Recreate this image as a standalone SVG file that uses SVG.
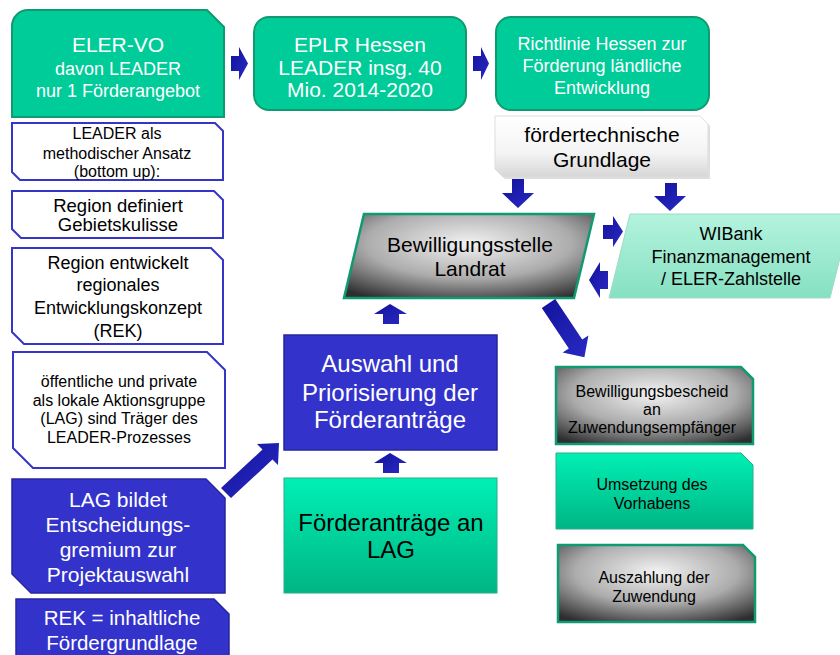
<svg xmlns="http://www.w3.org/2000/svg" width="840" height="655" viewBox="0 0 840 655">
<defs>
<radialGradient id="grey" cx="50%" cy="35%" r="75%">
<stop offset="0" stop-color="#f2f2f2"/>
<stop offset="0.55" stop-color="#acacac"/>
<stop offset="1" stop-color="#2e2e2e"/>
</radialGradient>
<linearGradient id="green" x1="0" y1="0" x2="0" y2="1">
<stop offset="0" stop-color="#00f0b4"/>
<stop offset="1" stop-color="#00b584"/>
</linearGradient>
<linearGradient id="mint" x1="0" y1="0" x2="0" y2="1">
<stop offset="0" stop-color="#b4f3de"/>
<stop offset="1" stop-color="#86e0c2"/>
</linearGradient>
<linearGradient id="paper" x1="0" y1="0" x2="0" y2="1">
<stop offset="0" stop-color="#ffffff"/>
<stop offset="0.6" stop-color="#f4f4f4"/>
<stop offset="1" stop-color="#d6d6d6"/>
</linearGradient>
<linearGradient id="arrow" x1="0" y1="0" x2="1" y2="1">
<stop offset="0" stop-color="#12129c"/>
<stop offset="1" stop-color="#2a2ac4"/>
</linearGradient>
</defs>
<style>
text{font-family:"Liberation Sans",Arial,sans-serif;text-anchor:middle}
.w{fill:#ffffff}
.k{fill:#000000}
.top{fill:#00cc99;stroke:#119a70;stroke-width:2}
.outline{fill:#ffffff;stroke:#3535c8;stroke-width:2}
.blue{fill:#3333cc;stroke:#2626a0;stroke-width:1.5}
.grey{fill:url(#grey);stroke:#0f9a72;stroke-width:2.5}
.grn{fill:url(#green);stroke:#22b088;stroke-width:1}
.arr{fill:url(#arrow)}
</style>

<g id="eler-vo">
<path class="top" d="M12,26 A16,16 0 0 1 28,10 L207,10 L224,27 L224,117 L12,117 Z"/>
<text class="w" x="118" y="52" font-size="21">ELER-VO</text>
<text class="w" x="118" y="75" font-size="18">davon LEADER</text>
<text class="w" x="118" y="97" font-size="18">nur 1 Förderangebot</text>
</g>

<g id="eplr">
<rect class="top" x="254" y="17" width="212" height="93" rx="15"/>
<text class="w" x="360" y="52" font-size="21">EPLR Hessen</text>
<text class="w" x="360" y="75" font-size="21">LEADER insg. 40</text>
<text class="w" x="360" y="97" font-size="21">Mio. 2014-2020</text>
</g>

<g id="richtlinie">
<rect class="top" x="496" y="17" width="213" height="93" rx="15"/>
<text class="w" x="602" y="50" font-size="18">Richtlinie Hessen zur</text>
<text class="w" x="602" y="72" font-size="18">Förderung ländliche</text>
<text class="w" x="602" y="94" font-size="18">Entwicklung</text>
</g>

<g id="leader-ansatz">
<path class="outline" d="M12,123 L215,123 L223,131 L223,180 L20,180 L12,172 Z"/>
<text class="k" x="117" y="139" font-size="16">LEADER als</text>
<text class="k" x="117" y="159" font-size="16">methodischer Ansatz</text>
<text class="k" x="117" y="177" font-size="16">(bottom up):</text>
</g>

<g id="gebietskulisse">
<path class="outline" d="M12,191 L214,191 L223,200 L223,238 L21,238 L12,229 Z"/>
<text class="k" x="118" y="212" font-size="18.5">Region definiert</text>
<text class="k" x="118" y="231" font-size="18.5">Gebietskulisse</text>
</g>

<g id="rek-entwicklung">
<path class="outline" d="M12,248 L211,248 L223,260 L223,344 L24,344 L12,332 Z"/>
<text class="k" x="118" y="269" font-size="18">Region entwickelt</text>
<text class="k" x="118" y="291" font-size="18">regionales</text>
<text class="k" x="118" y="314" font-size="18">Entwicklungskonzept</text>
<text class="k" x="118" y="337" font-size="18">(REK)</text>
</g>

<g id="lag-traeger">
<path class="outline" d="M13,352 L207,352 L225,370 L225,468 L33,468 L13,448 Z"/>
<text class="k" x="119" y="387" font-size="16">öffentliche und private</text>
<text class="k" x="119" y="406" font-size="16">als lokale Aktionsgruppe</text>
<text class="k" x="119" y="424" font-size="16">(LAG) sind Träger des</text>
<text class="k" x="119" y="443" font-size="16">LEADER-Prozesses</text>
</g>

<g id="lag-gremium">
<path class="blue" d="M12,479 L206,479 L225,498 L225,593 L31,593 L12,574 Z"/>
<text class="w" x="118" y="507" font-size="21">LAG bildet</text>
<text class="w" x="118" y="532" font-size="21">Entscheidungs-</text>
<text class="w" x="118" y="557" font-size="21">gremium zur</text>
<text class="w" x="118" y="582" font-size="21">Projektauswahl</text>
</g>

<g id="rek-grundlage">
<path class="blue" d="M16,599 L214,599 L229,614 L229,670 L16,670 Z"/>
<text class="w" x="122" y="625" font-size="20.5">REK = inhaltliche</text>
<text class="w" x="122" y="650" font-size="20.5">Fördergrundlage</text>
</g>

<g id="foerdertechnisch">
<path d="M497,118 L702,118 L710,126 L710,179 L505,179 L497,171 Z" fill="#c8c8c8" opacity="0.6"/>
<path d="M495,116 L700,116 L708,124 L708,177 L503,177 L495,169 Z" fill="url(#paper)" stroke="#dddddd" stroke-width="1"/>
<text class="k" x="602" y="142" font-size="21">fördertechnische</text>
<text class="k" x="602" y="167" font-size="21">Grundlage</text>
</g>

<g id="bewilligungsstelle">
<polygon class="grey" points="364,214 594,214 574,298 344,298"/>
<text class="k" x="470" y="252" font-size="21">Bewilligungsstelle</text>
<text class="k" x="470" y="276" font-size="21">Landrat</text>
</g>

<g id="wibank">
<polygon points="630,214 851,214 830,298 609,298" fill="url(#mint)" stroke="#9fdcc6" stroke-width="1"/>
<text class="k" x="731" y="240" font-size="18">WIBank</text>
<text class="k" x="731" y="263" font-size="18">Finanzmanagement</text>
<text class="k" x="731" y="285" font-size="18">/ ELER-Zahlstelle</text>
</g>

<g id="auswahl">
<rect class="blue" x="284" y="335" width="213" height="115"/>
<text class="w" x="390" y="372" font-size="24">Auswahl und</text>
<text class="w" x="390" y="401" font-size="24">Priorisierung der</text>
<text class="w" x="390" y="428" font-size="24">Förderanträge</text>
</g>

<g id="foerderantraege">
<rect class="grn" x="284" y="478" width="213" height="115"/>
<text class="k" x="391" y="531" font-size="24">Förderanträge an</text>
<text class="k" x="391" y="558" font-size="24">LAG</text>
</g>

<g id="bescheid">
<path class="grey" d="M556,367 L741,367 L753,379 L753,444 L556,444 Z"/>
<text class="k" x="652" y="397" font-size="16">Bewilligungsbescheid</text>
<text class="k" x="652" y="415" font-size="16">an</text>
<text class="k" x="652" y="433" font-size="16">Zuwendungsempfänger</text>
</g>

<g id="umsetzung">
<path class="grn" d="M556,453 L741,453 L753,465 L753,529 L556,529 Z"/>
<text class="k" x="652" y="490" font-size="16">Umsetzung des</text>
<text class="k" x="652" y="509" font-size="16">Vorhabens</text>
</g>

<g id="auszahlung">
<path class="grey" d="M558,545 L743,545 L755,557 L755,622 L558,622 Z"/>
<text class="k" x="654" y="583" font-size="16">Auszahlung der</text>
<text class="k" x="654" y="602" font-size="16">Zuwendung</text>
</g>

<g id="connectors">
<polygon class="arr" points="231,56 239,56 239,47 248,63.5 239,80 239,71 231,71"/>
<polygon class="arr" points="473,56 481,56 481,47 489,63.5 481,80 481,71 473,71"/>
<polygon class="arr" points="512,179 524,179 524,193 534,193 518,208 502,193 512,193"/>
<polygon class="arr" points="665,183 677,183 677,196 686,196 670,211 654,196 665,196"/>
<polygon class="arr" points="603,225 613,225 613,216 623,231.5 613,247 613,239 603,239"/>
<polygon class="arr" points="608,271 600,271 600,262 589,280 600,298 600,289 608,289"/>
<polygon class="arr" points="390,304 407,314 399,314 399,324 383,324 383,314 374,314"/>
<polygon class="arr" points="390,453 407,463 399,463 399,473 383,473 383,463 374,463"/>
<polygon class="arr" points="221,488 262.5,449.5 257,444 279,443 278,465 272.5,459.5 231,498"/>
<polygon class="arr" points="555.2,299.1 582.2,339.6 588.4,335.4 584.4,357.3 562.6,352.6 568.8,348.4 541.8,307.9"/>
</g>
</svg>
